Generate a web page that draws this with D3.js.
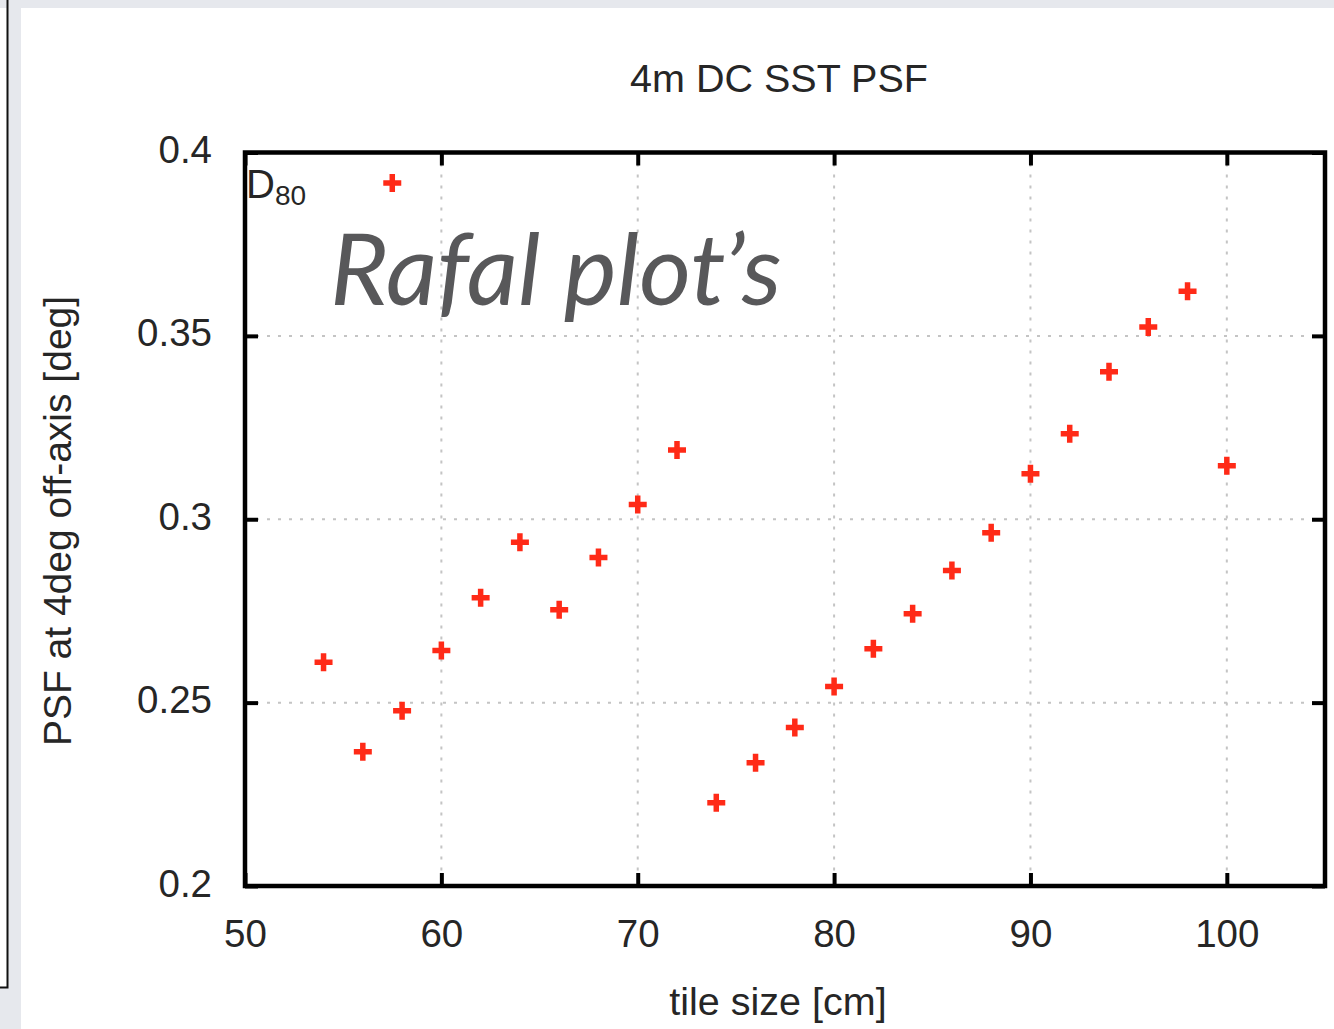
<!DOCTYPE html>
<html><head><meta charset="utf-8">
<script src="https://cdn.jsdelivr.net/npm/d3@7"></script>
<style>
html,body{margin:0;padding:0;background:#fff;}
svg{display:block;}
</style></head>
<body>
<svg id="c" width="1334" height="1029"></svg>
<script>
const tileSize = [54,56,57.5,58,60,62,64,66,68,70,72,74,76,78,80,82,84,86,88,90,92,94,96,98,100];
const psf = [0.261,0.2366,0.3917,0.2478,0.2642,0.2786,0.2937,0.2753,0.2896,0.304,0.3189,0.2227,0.2336,0.2432,0.2544,0.2647,0.2742,0.286,0.2963,0.3124,0.3233,0.3402,0.3524,0.3622,0.3146];
const xTicks = [50,60,70,80,90,100];
const yTicks = [0.2,0.25,0.3,0.35,0.4];
const yTickLabels = ["0.2","0.25","0.3","0.35","0.4"];
const title = "4m DC SST PSF";
const xLabel = "tile size [cm]";
const yLabel = "PSF at 4deg off-axis [deg]";

const svg = d3.select("#c");
// background frame
svg.append("rect").attr("x",0).attr("y",0).attr("width",1334).attr("height",1029).attr("fill","#e6e8ed");
svg.append("rect").attr("x",0).attr("y",8).attr("width",7).attr("height",979).attr("fill","#fff");
svg.append("rect").attr("x",21).attr("y",8).attr("width",1313).attr("height",1021).attr("fill","#fff");
svg.append("path").attr("d","M7.5,0V987.5H0").attr("fill","none").attr("stroke","#111").attr("stroke-width",2);

const L=245,R=1325,T=152.5,B=886;
const x = d3.scaleLinear().domain([50,105]).range([L,R]);
const y = d3.scaleLinear().domain([0.2,0.4]).range([B,T]);
const font = "'Liberation Sans', Arial, Helvetica, sans-serif";
const fs = 38.5;
const txtCol = "#262626";

// grid
const g = svg.append("g");
g.selectAll(".gx").data(xTicks.filter(d=>d>50)).join("line")
  .attr("x1",d=>x(d)).attr("x2",d=>x(d)).attr("y1",T).attr("y2",B)
  .attr("stroke","#c4c4c4").attr("stroke-width",2).attr("stroke-dasharray","3,8");
g.selectAll(".gy").data(yTicks.filter(d=>d>0.2&&d<0.4)).join("line")
  .attr("x1",L).attr("x2",R).attr("y1",d=>y(d)).attr("y2",d=>y(d))
  .attr("stroke","#c4c4c4").attr("stroke-width",2).attr("stroke-dasharray","3,8");

// axes with inner ticks
const tk=13;
function style(sel){
  sel.select(".domain").remove();
  sel.selectAll(".tick line").attr("stroke","#000").attr("stroke-width",4);
  sel.selectAll(".tick text").attr("font-family",font).attr("font-size",fs).attr("fill",txtCol);
}
const axB = d3.axisBottom(x).tickValues(xTicks).tickSize(-tk).tickFormat(d3.format("d"));
const axT = d3.axisTop(x).tickValues(xTicks).tickSize(-tk).tickFormat("");
const axL = d3.axisLeft(y).tickValues(yTicks).tickSize(-tk).tickFormat((d,i)=>yTickLabels[i]);
const axR = d3.axisRight(y).tickValues(yTicks).tickSize(-tk).tickFormat("");
const gB = svg.append("g").attr("transform",`translate(0,${B})`).call(axB).call(style);
gB.selectAll(".tick text").attr("y",61).attr("dy",null);
svg.append("g").attr("transform",`translate(0,${T})`).call(axT).call(style);
const gL = svg.append("g").attr("transform",`translate(${L},0)`).call(axL).call(style);
gL.selectAll(".tick text").attr("x",-33).attr("dy",10);
svg.append("g").attr("transform",`translate(${R},0)`).call(axR).call(style);

// frame
svg.append("rect").attr("x",L).attr("y",T).attr("width",R-L).attr("height",B-T)
  .attr("fill","none").attr("stroke","#000").attr("stroke-width",4.5);

// points
const s=9;
svg.append("g").selectAll("path").data(tileSize.map((d,i)=>[d,psf[i]])).join("path")
  .attr("d",d=>`M${x(d[0])-s},${y(d[1])}H${x(d[0])+s}M${x(d[0])},${y(d[1])-s}V${y(d[1])+s}`)
  .attr("stroke","#ff2a17").attr("stroke-width",5.5).attr("fill","none");

// texts
svg.append("text").attr("x",779).attr("y",92).attr("text-anchor","middle")
  .attr("font-family",font).attr("font-size",39.5).attr("fill",txtCol).text(title);
svg.append("text").attr("x",778).attr("y",1015).attr("text-anchor","middle")
  .attr("font-family",font).attr("font-size",39.5).attr("fill",txtCol).text(xLabel);
svg.append("text").attr("transform","translate(71,521) rotate(-90)").attr("text-anchor","middle")
  .attr("font-family",font).attr("font-size",39).attr("fill",txtCol).text(yLabel);
const d80 = svg.append("text").attr("x",246).attr("y",198).attr("font-family",font).attr("font-size",40).attr("fill",txtCol);
d80.append("tspan").text("D");
d80.append("tspan").attr("font-size",28).attr("dy",7).text("80");

svg.append("text").attr("x",330).attr("y",305).attr("font-family","Lato, 'Open Sans', sans-serif")
  .attr("font-style","italic").attr("font-size",100).attr("fill","#58585a").text("Rafal plot’s");
</script>
</body></html>
